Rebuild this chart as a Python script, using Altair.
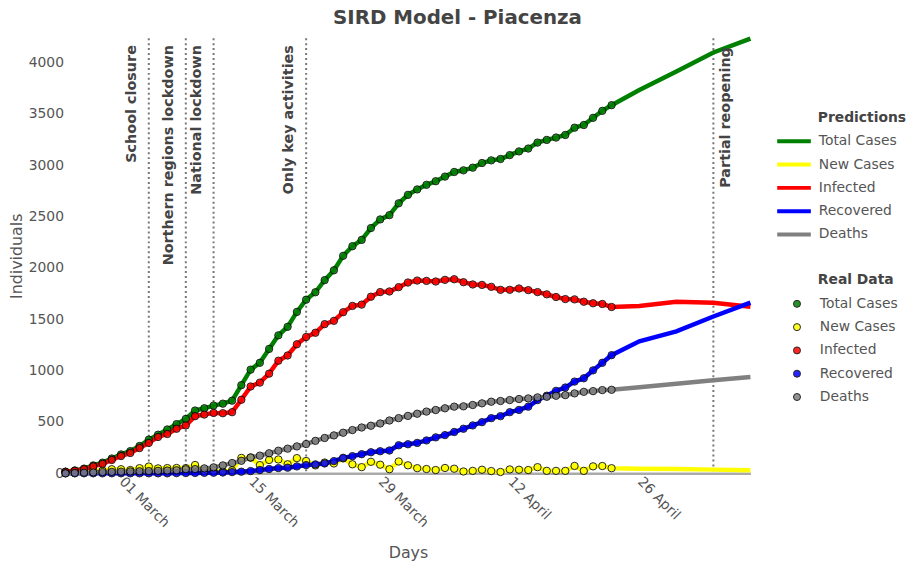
import altair as alt
import pandas as pd

# ---------------- data ----------------
real_dates = pd.date_range("2020-02-24", periods=60).strftime("%Y-%m-%d").tolist()
forecast_dates = ["2020-04-26", "2020-04-30", "2020-05-04", "2020-05-08"]

series_names = ["Total Cases", "New Cases", "Infected", "Recovered", "Deaths"]
series_colors = ["#008000", "#ffff00", "#ff0000", "#0000ff", "#808080"]

total_cases = [15, 28, 46, 77, 104, 144, 184, 216, 266, 328,
               376, 427, 479, 530, 611, 633, 659, 678, 707, 858,
               1009, 1076, 1211, 1343, 1426, 1571, 1690, 1762, 1880, 1976,
               2117, 2210, 2272, 2387, 2471, 2513, 2628, 2710, 2763, 2808,
               2843, 2888, 2933, 2949, 2975, 3020, 3046, 3059, 3097, 3133,
               3161, 3219, 3245, 3268, 3293, 3364, 3390, 3460, 3528, 3583]
new_cases = [15, 13, 18, 31, 27, 40, 40, 32, 50, 66,
             48, 51, 52, 51, 81, 22, 26, 19, 29, 150,
             152, 80, 130, 135, 88, 148, 120, 77, 105, 96,
             145, 88, 60, 112, 84, 40, 115, 78, 50, 42,
             32, 52, 45, 18, 24, 35, 22, 13, 38, 35,
             32, 60, 24, 24, 24, 72, 24, 68, 71, 50]
infected = [15, 25, 40, 68, 92, 130, 168, 198, 246, 296,
            354, 383, 434, 466, 556, 572, 588, 585, 595, 716,
            845, 883, 970, 1096, 1147, 1256, 1327, 1368, 1452, 1484,
            1568, 1629, 1642, 1719, 1764, 1770, 1812, 1857, 1876, 1873,
            1867, 1883, 1889, 1860, 1838, 1834, 1815, 1786, 1786, 1799,
            1783, 1764, 1742, 1716, 1696, 1693, 1670, 1655, 1648, 1619]
recovered = [0, 0, 0, 0, 0, 0, 0, 0, 0, 0,
             0, 0, 2, 3, 4, 5, 6, 8, 12, 16,
             22, 32, 42, 51, 55, 67, 80, 87, 96, 119,
             151, 167, 186, 205, 215, 222, 273, 283, 296, 320,
             350, 372, 402, 434, 466, 498, 537, 556, 595, 617,
             649, 713, 755, 803, 835, 893, 925, 1002, 1076, 1150]
deaths = [0, 3, 6, 9, 12, 14, 16, 18, 20, 22,
          24, 27, 30, 40, 41, 48, 58, 77, 100, 122,
          155, 172, 195, 220, 240, 262, 285, 316, 344, 369,
          395, 421, 446, 463, 485, 514, 537, 559, 580, 601,
          616, 633, 649, 652, 665, 681, 697, 704, 713, 723,
          729, 739, 745, 755, 761, 778, 793, 800, 810, 813]

forecast_total = [3730, 3910, 4096, 4231]
forecast_new = [45, 42, 36, 29]
forecast_infected = [1629, 1670, 1661, 1622]
forecast_recovered = [1285, 1382, 1526, 1661]
forecast_deaths = [838, 872, 905, 938]

event_dates = ["2020-03-04", "2020-03-08", "2020-03-11", "2020-03-21", "2020-05-04"]
event_labels = ["School closure", "Northern regions lockdown", "National lockdown",
                "Only key activities", "Partial reopening"]
event_side = ["left", "left", "left", "left", "right"]

tick_dates = ["2020-03-01", "2020-03-15", "2020-03-29", "2020-04-12", "2020-04-26"]
y_ticks = [0, 500, 1000, 1500, 2000, 2500, 3000, 3500, 4000]

# ---------------- tables ----------------
real_values = [total_cases, new_cases, infected, recovered, deaths]
fc_values = [forecast_total, forecast_new, forecast_infected, forecast_recovered, forecast_deaths]

real_rows, pred_rows = [], []
for name, vals, fvals in zip(series_names, real_values, fc_values):
    for d, v in zip(real_dates, vals):
        real_rows.append({"date": d, "value": v, "series": name})
        pred_rows.append({"date": d, "value": v, "series": name})
    for d, v in zip(forecast_dates, fvals):
        pred_rows.append({"date": d, "value": v, "series": name})
real_df = pd.DataFrame(real_rows)
pred_df = pd.DataFrame(pred_rows)
events_df = pd.DataFrame({"date": event_dates, "label": event_labels, "side": event_side})

x_scale = alt.Scale(domain=["2020-02-24", "2020-05-08"], nice=False)
y_scale = alt.Scale(domain=[0, 4235], nice=False, zero=True)

x_enc = alt.X("date:T", scale=x_scale, title="Days",
              axis=alt.Axis(values=tick_dates, format="%d %B", labelAngle=45,
                            labelAlign="left", labelBaseline="middle",
                            labelFontSize=14, labelColor="#555", ticks=False,
                            labelPadding=6, domain=True, domainColor="#aaa",
                            domainWidth=2.5, grid=False, titleFontSize=16,
                            titleFontWeight="normal", titleColor="#555",
                            titlePadding=15))
y_enc = alt.Y("value:Q", scale=y_scale, title="Individuals",
              axis=alt.Axis(values=y_ticks, format="d", labelFontSize=14,
                            labelColor="#555", ticks=False, labelPadding=2,
                            domain=False, grid=False, titleFontSize=16,
                            titleFontWeight="normal", titleColor="#555",
                            titlePadding=4))

color_scale = alt.Scale(domain=series_names, range=series_colors)

rules = alt.Chart(events_df).mark_rule(
    color="#777", strokeWidth=2, strokeDash=[2, 3]
).encode(x=alt.X("date:T", scale=x_scale))

lines = alt.Chart(pred_df).mark_line(strokeWidth=4.5).encode(
    x=x_enc, y=y_enc,
    color=alt.Color("series:N", scale=color_scale, sort=series_names,
                    legend=alt.Legend(title="Predictions", orient="none",
                                      legendX=759, legendY=74,
                                      symbolType="M-3,0H3", symbolSize=128,
                                      symbolStrokeWidth=4, symbolOffset=-32,
                                      labelOffset=17, labelFontSize=14,
                                      labelColor="#555", titleFontSize=14,
                                      titleColor="#444", titleFontWeight="bold",
                                      titlePadding=8, rowPadding=7.5, padding=0)),
)

points = alt.Chart(real_df).mark_circle(
    size=55, stroke="black", strokeWidth=1, opacity=0.85
).encode(
    x=alt.X("date:T", scale=x_scale), y=alt.Y("value:Q", scale=y_scale),
    fill=alt.Fill("series:N", scale=color_scale, sort=series_names,
                  legend=alt.Legend(title="Real Data", orient="none",
                                    legendX=759, legendY=237,
                                    symbolType="circle", symbolSize=50,
                                    symbolStrokeColor="black", symbolStrokeWidth=1,
                                    symbolOffset=-28, labelOffset=16,
                                    labelFontSize=14, labelColor="#555",
                                    titleFontSize=14, titleColor="#444",
                                    titleFontWeight="bold", titlePadding=10,
                                    rowPadding=9.5, padding=0)),
)

text_left = alt.Chart(events_df).transform_filter(alt.datum.side == "left").mark_text(
    angle=270, align="right", baseline="alphabetic", dy=-13,
    fontSize=14.5, fontWeight="bold", color="#444"
).encode(x=alt.X("date:T", scale=x_scale), y=alt.value(7), text="label:N")

text_right = alt.Chart(events_df).transform_filter(alt.datum.side == "right").mark_text(
    angle=270, align="right", baseline="alphabetic", dy=17,
    fontSize=14.5, fontWeight="bold", color="#444"
).encode(x=alt.X("date:T", scale=x_scale), y=alt.value(9), text="label:N")

chart = alt.layer(rules, lines, points, text_left, text_right).resolve_scale(
    color="independent", fill="independent"
).properties(
    width=691, height=439,
    autosize=alt.AutoSizeParams(type="none"),
    padding={"left": 58, "top": 28, "right": 160, "bottom": 86},
    title=alt.TitleParams("SIRD Model - Piacenza", fontSize=20, fontWeight="bold",
                          color="#444", anchor="middle", dx=50, offset=-14,
                          baseline="alphabetic"),
).configure(font="DejaVu Sans").configure_view(stroke=None)

chart.save("out.html", embed_options={"renderer": "svg", "actions": False})
